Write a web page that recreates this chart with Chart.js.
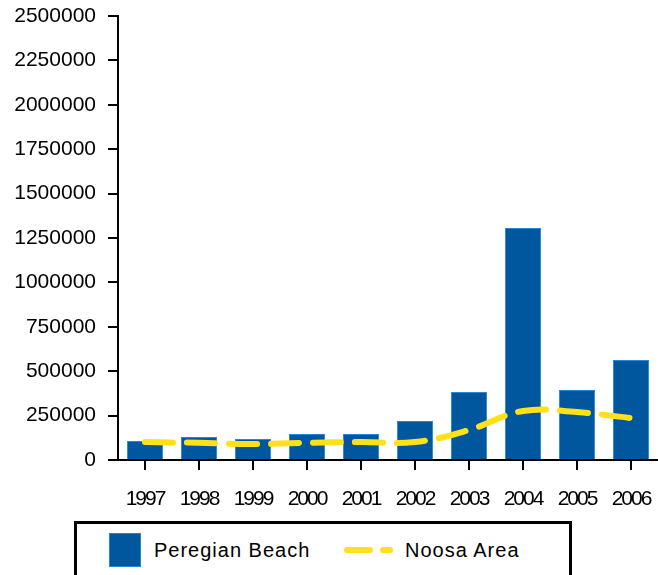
<!DOCTYPE html>
<html>
<head>
<meta charset="utf-8">
<script src="https://cdn.jsdelivr.net/npm/chart.js@4/dist/chart.umd.min.js"></script>
<style>
  body { margin: 0; background: #fff; font-family: "Liberation Sans", Arial, sans-serif; }
  #wrap { position: relative; width: 658px; height: 575px; overflow: hidden; }
  #chartBox { position: absolute; left: 0; top: 0; width: 658px; height: 518px; }
  #legend { position: absolute; left: 74px; top: 521px; width: 492px; height: 70px; border: 3px solid #000; }
  .item { position: absolute; top: 9px; font-size: 20px; letter-spacing: 1px; color: #000; line-height: 34px; }
  .swatch { position: absolute; }
</style>
</head>
<body>
<div id="wrap">
  <div id="chartBox"><canvas id="propChart"></canvas></div>
  <div id="legend"></div>
</div>
<script>
// values
const years = ['1997', '1998', '1999', '2000', '2001', '2002', '2003', '2004', '2005', '2006'];
const peregianBeach = [107000, 130000, 118000, 146000, 146000, 220000, 383000, 1306000, 394000, 563000];
const noosaArea = [101000, 97000, 90000, 97000, 101000, 101000, 169000, 276000, 270000, 236000];
const yMax = 2500000;
const yStep = 250000;

const barBlue = '#00579D';
const lineYellow = '#FFE11A';

// x labels in the original are squeezed together
const squeezeXLabels = {
    id: 'squeezeXLabels',
    afterDatasetsDraw(chart) {
        chart.ctx.letterSpacing = '-2px';
    },
    afterDraw(chart) {
        chart.ctx.letterSpacing = '0px';
    }
};

const ctx = document.getElementById('propChart').getContext('2d');
new Chart(ctx, {
    data: {
        labels: years,
        datasets: [{
            type: 'line',
            label: 'Noosa Area',
            data: noosaArea,
            borderColor: lineYellow,
            borderWidth: 6,
            borderDash: [28, 14],
            borderCapStyle: 'round',
            tension: 0.4,
            pointRadius: 0,
            fill: false,
            order: 0
        }, {
            type: 'bar',
            label: 'Peregian Beach',
            data: peregianBeach,
            backgroundColor: barBlue,
            borderColor: '#2188dc',
            borderWidth: 1,
            barPercentage: 0.67,
            categoryPercentage: 1,
            order: 1
        }]
    },
    options: {
        responsive: true,
        maintainAspectRatio: false,
        animation: false,
        layout: { padding: 0 },
        plugins: {
            legend: { display: false },
            tooltip: { enabled: false }
        },
        scales: {
            x: {
                offset: true,
                afterFit(scale) {
                    scale.height = 58;
                    scale.paddingLeft = 0;
                    scale.paddingRight = 0;
                },
                grid: {
                    offset: false,
                    drawOnChartArea: false,
                    drawTicks: true,
                    tickLength: 10,
                    color: '#000',
                    lineWidth: 2
                },
                border: { color: '#000', width: 2 },
                ticks: {
                    color: '#000',
                    padding: 17,
                    maxRotation: 0,
                    autoSkip: false,
                    z: 1,
                    font: { family: 'Liberation Sans', size: 21 }
                }
            },
            y: {
                min: 0,
                max: yMax,
                afterFit(scale) {
                    scale.width = 118;
                    scale.paddingTop = 16;
                    scale.paddingBottom = 0;
                },
                grid: {
                    drawOnChartArea: false,
                    drawTicks: true,
                    tickLength: 10,
                    color: '#000',
                    lineWidth: 2
                },
                border: { color: '#000', width: 2 },
                ticks: {
                    stepSize: yStep,
                    color: '#000',
                    padding: 12,
                    font: { family: 'Liberation Sans', size: 21 },
                    callback: (v) => String(v)
                }
            }
        }
    },
    plugins: [squeezeXLabels]
});

// legend built from the dataset labels
const legend = document.getElementById('legend');
legend.innerHTML =
    '<div class="swatch" style="left:32px;top:9px;width:32px;height:34px;background:' + barBlue + ';border:1px solid #2188dc;box-sizing:border-box"></div>' +
    '<div class="item" style="left:77px">Peregian Beach</div>' +
    '<div class="swatch" style="left:267px;top:23px;width:29px;height:6px;background:' + lineYellow + ';border-radius:3px"></div>' +
    '<div class="swatch" style="left:303px;top:23px;width:13px;height:6px;background:' + lineYellow + ';border-radius:3px"></div>' +
    '<div class="item" style="left:328px">Noosa Area</div>';
</script>
</body>
</html>
